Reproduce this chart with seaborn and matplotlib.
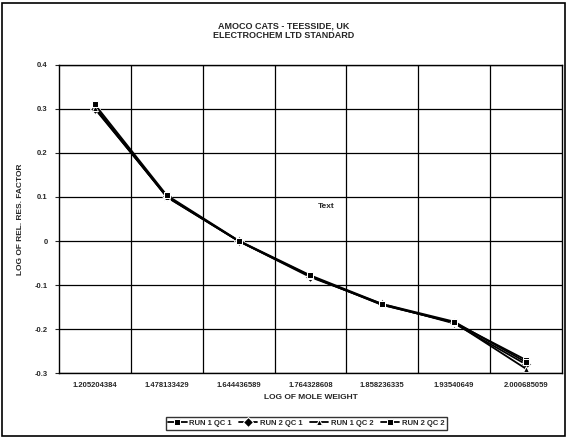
import numpy as np
import pandas as pd
import seaborn as sns
import matplotlib.pyplot as plt

mole_weight_labels = ["1.205204384", "1.478133429", "1.644436589", "1.764328608",
                      "1.858236335", "1.93540649", "2.000685059"]
series_names = ["RUN 1 QC 1", "RUN 2 QC 1", "RUN 1 QC 2", "RUN 2 QC 2"]
run1_qc1 = [0.305, 0.100, 0.000, -0.080, -0.145, -0.185, -0.270]
run2_qc1 = [0.300, 0.102, 0.000, -0.082, -0.143, -0.187, -0.280]
run1_qc2 = [0.302, 0.100, 0.000, -0.080, -0.145, -0.185, -0.290]
run2_qc2 = [0.310, 0.104, 0.001, -0.078, -0.143, -0.183, -0.275]

rows = []
for name, vals in zip(series_names, [run1_qc1, run2_qc1, run1_qc2, run2_qc2]):
    for i, v in enumerate(vals):
        rows.append({"pos": i, "val": v, "series": name})
df = pd.DataFrame(rows)

sns.set_style("white")
plt.rcParams["font.family"] = ["Liberation Sans", "DejaVu Sans"]
plt.rcParams["font.weight"] = "bold"

fig = plt.figure(figsize=(5.67, 4.38), dpi=100)
ax = fig.add_axes([0.104, 0.148, 0.887, 0.704])

sns.lineplot(data=df, x="pos", y="val", hue="series", style="series",
             palette=["black"] * 4, markers=["s", "D", "^", "s"], dashes=False,
             markersize=5, linewidth=1.3, ax=ax, legend=True)

ax.set_xlim(-0.5, 6.5)
ax.set_ylim(-0.3, 0.4)
ax.set_xticks(range(len(mole_weight_labels)))
ax.set_xticklabels(mole_weight_labels, fontsize=5.5, fontweight="bold")
ax.set_xticks(np.arange(0.5, 6.5, 1), minor=True)
ax.set_yticks([-0.3, -0.2, -0.1, 0, 0.1, 0.2, 0.3, 0.4])
ax.set_yticklabels(["-0.3", "-0.2", "-0.1", "0", "0.1", "0.2", "0.3", "0.4"],
                   fontsize=5.5, fontweight="bold")
ax.tick_params(axis="x", which="major", length=0, pad=6)
ax.tick_params(axis="y", length=3, direction="out", left=True, pad=5)
ax.grid(axis="y", which="major", color="black", linewidth=0.9)
ax.grid(axis="x", which="minor", color="black", linewidth=0.9)
for s in ax.spines.values():
    s.set_color("black")
    s.set_linewidth(1.0)

ax.set_xlabel("LOG OF MOLE WEIGHT", fontsize=6, fontweight="bold", labelpad=4)
ax.set_ylabel("LOG OF REL. RES. FACTOR", fontsize=6, fontweight="bold", labelpad=8)
ax.text(3.1, 0.075, "Text", fontsize=6, fontweight="bold")

fig.suptitle("AMOCO CATS - TEESSIDE, UK\nELECTROCHEM LTD STANDARD",
             fontsize=6.5, fontweight="bold", y=0.952, linespacing=1.2)

handles, labels = ax.get_legend_handles_labels()
ax.legend_.remove()
fig.legend(handles, labels, loc="lower center", bbox_to_anchor=(0.54, 0.01), ncol=4,
           frameon=True, fancybox=False, edgecolor="black",
           handlelength=2.4, handletextpad=0.3, columnspacing=1.0,
           borderpad=0.35, prop={"weight": "bold", "size": 5.5})

fig.patches.append(plt.Rectangle((0.004, 0.004), 0.992, 0.99, transform=fig.transFigure,
                                 fill=False, edgecolor="black", linewidth=1.2))

fig.savefig("out.png", dpi=100)
